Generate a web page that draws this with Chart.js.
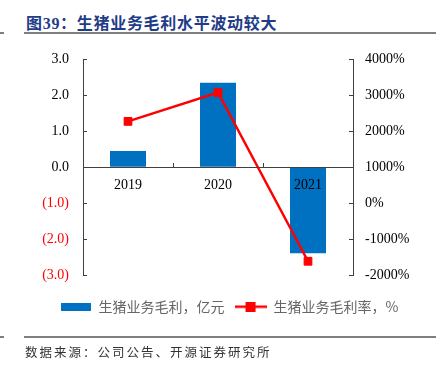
<!DOCTYPE html>
<html>
<head>
<meta charset="utf-8">
<script src="https://cdn.jsdelivr.net/npm/chart.js@4.4.1/dist/chart.umd.min.js"></script>
<style>
  body { margin: 0; background: #fff; }
  #wrap { position: relative; width: 439px; height: 367px; overflow: hidden; }
  #chartBox { position: absolute; left: 0; top: 0; width: 439px; height: 367px; }
  .title { position: absolute; left: 26px; top: 10px; font: bold 16px "Liberation Serif", "Noto Sans CJK SC"; color: #1f3c88; letter-spacing: 0.7px; white-space: nowrap; }
  .rule { position: absolute; height: 2px; background: #7f7f7f; }
  .source { position: absolute; left: 25px; top: 342px; font: 12.5px "Noto Sans CJK SC"; color: #333; letter-spacing: 2px; white-space: nowrap; }
</style>
</head>
<body>
<div id="wrap">
  <div class="title">图39：生猪业务毛利水平波动较大</div>
  <div class="rule" style="left:24px; top:32px; width:412px;"></div>
  <div class="rule" style="left:0; top:32px; width:4px;"></div>
  <div id="chartBox"><canvas id="chartMaoli"></canvas></div>
  <div class="rule" style="left:24px; top:336px; width:412px;"></div>
  <div class="rule" style="left:0; top:336px; width:4px;"></div>
  <div class="source">数据来源：公司公告、开源证券研究所</div>
</div>
<script>
// data
const tahun = ['2019', '2020', '2021'];
const labaKotor = [0.45, 2.34, -2.39];          // 生猪业务毛利, 亿元
const marginLaba = [2270, 3070, -1610];         // 生猪业务毛利率, %
const ticksKiri = [-3, -2, -1, 0, 1, 2, 3];
const ticksKanan = [-2000, -1000, 0, 1000, 2000, 3000, 4000];

const namaBar = '生猪业务毛利，亿元';
const namaLine = '生猪业务毛利率，%';

const serif = '"Liberation Serif", "Times New Roman", serif';

// legend icons
function iconBar() {
    const c = document.createElement('canvas');
    c.width = 30; c.height = 8;
    const g = c.getContext('2d');
    g.fillStyle = '#0070C0';
    g.fillRect(0, 0, 30, 8);
    return c;
}
function iconLine() {
    const c = document.createElement('canvas');
    c.width = 32; c.height = 10;
    const g = c.getContext('2d');
    g.fillStyle = '#FF0000';
    g.fillRect(0, 4, 32, 2.5);
    g.fillRect(11, 0, 10, 10);
    return c;
}

// inward tick marks like the original
const tickDalam = {
    id: 'tickDalam',
    afterDraw(chart) {
        const ctx = chart.ctx;
        const sx = chart.scales.x, sy = chart.scales.y, sy1 = chart.scales.y1;
        ctx.save();
        ctx.strokeStyle = '#404040';
        ctx.lineWidth = 1;
        ctx.beginPath();
        ticksKiri.forEach(v => {
            const p = Math.round(sy.getPixelForValue(v)) + 0.5;
            ctx.moveTo(sy.right, p); ctx.lineTo(sy.right + 4, p);
        });
        ticksKanan.forEach(v => {
            const p = Math.round(sy1.getPixelForValue(v)) + 0.5;
            ctx.moveTo(sy1.left, p); ctx.lineTo(sy1.left - 4, p);
        });
        const y0 = Math.round(sy.getPixelForValue(0));
        for (let i = 0; i < tahun.length - 1; i++) {
            const p = Math.round((sx.getPixelForTick(i) + sx.getPixelForTick(i + 1)) / 2) + 0.5;
            ctx.moveTo(p, y0); ctx.lineTo(p, y0 - 4);
        }
        ctx.stroke();
        ctx.restore();
    }
};

const ctxMaoli = document.getElementById('chartMaoli');
new Chart(ctxMaoli, {
    data: {
        labels: tahun,
        datasets: [{
            type: 'line',
            label: namaLine,
            data: marginLaba,
            yAxisID: 'y1',
            borderColor: '#FF0000',
            backgroundColor: '#FF0000',
            borderWidth: 2.5,
            pointStyle: 'rect',
            pointRadius: 5.5,
            pointBorderWidth: 1,
            order: 0
        }, {
            type: 'bar',
            label: namaBar,
            data: labaKotor,
            yAxisID: 'y',
            backgroundColor: '#0070C0',
            barPercentage: 0.4,
            categoryPercentage: 1.0,
            order: 1
        }]
    },
    options: {
        responsive: true,
        maintainAspectRatio: false,
        animation: false,
        layout: {
            padding: { top: 59, bottom: 43.5, left: 19, right: 0 }
        },
        plugins: {
            tooltip: { enabled: false },
            legend: {
                position: 'bottom',
                title: { display: true, text: '', font: { size: 1 }, padding: { top: 13, bottom: 0 } },
                labels: {
                    usePointStyle: true,
                    pointStyleWidth: 32,
                    padding: 10,
                    color: '#000',
                    font: { family: '"Noto Sans CJK SC"', size: 14 },
                    generateLabels() {
                        return [
                            { text: namaBar, pointStyle: iconBar(), datasetIndex: 1, lineWidth: 0, fillStyle: '#0070C0', strokeStyle: '#0070C0' },
                            { text: namaLine, pointStyle: iconLine(), datasetIndex: 0, lineWidth: 0, fillStyle: '#FF0000', strokeStyle: '#FF0000' }
                        ];
                    }
                }
            }
        },
        scales: {
            x: {
                position: { y: 0 },
                offset: true,
                grid: { display: true, drawOnChartArea: false, drawTicks: false, offset: true },
                border: { display: true, color: '#404040', width: 1, z: 1 },
                ticks: { color: '#000', padding: 10, z: 2, font: { family: serif, size: 14 } }
            },
            y: {
                position: 'left',
                min: -3,
                max: 3,
                afterFit(scale) { scale.width = 64; },
                afterBuildTicks(scale) { scale.ticks = ticksKiri.map(v => ({ value: v })); },
                grid: { drawOnChartArea: false, drawTicks: false },
                border: { display: true, color: '#404040', width: 1 },
                ticks: {
                    padding: 14,
                    font: { family: serif, size: 14 },
                    color: c => (c.tick && c.tick.value < 0 ? '#FF0000' : '#000'),
                    callback: v => (v < 0 ? '(' + Math.abs(v).toFixed(1) + ')' : v.toFixed(1))
                }
            },
            y1: {
                position: 'right',
                min: -2000,
                max: 4000,
                afterFit(scale) { scale.width = 86; },
                afterBuildTicks(scale) { scale.ticks = ticksKanan.map(v => ({ value: v })); },
                grid: { drawOnChartArea: false, drawTicks: false },
                border: { display: true, color: '#404040', width: 1 },
                ticks: {
                    padding: 12,
                    color: '#000',
                    font: { family: serif, size: 14 },
                    callback: v => v + '%'
                }
            }
        }
    },
    plugins: [tickDalam]
});
</script>
</body>
</html>
